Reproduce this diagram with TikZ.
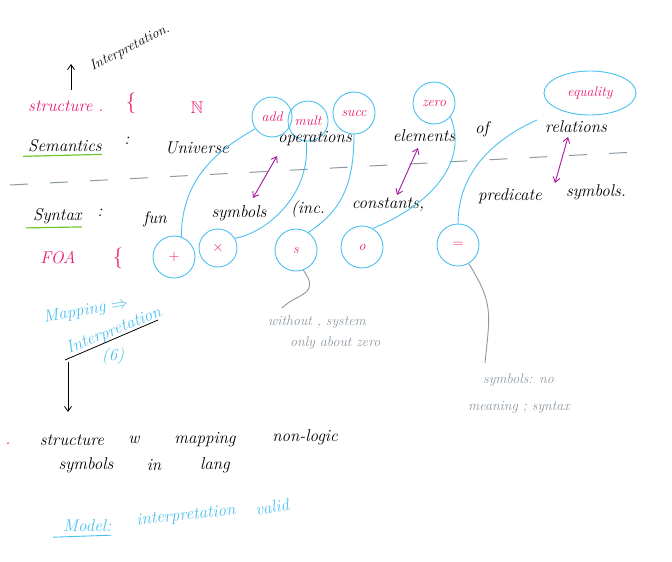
\documentclass[tikz,border=0pt]{standalone}
\usepackage{amssymb}
\usetikzlibrary{arrows.meta,shapes.geometric}

\definecolor{inkpink}{RGB}{236,24,112}
\definecolor{inkcyan}{RGB}{74,192,240}
\definecolor{inkmag}{RGB}{168,24,160}
\definecolor{inkgray}{RGB}{140,152,162}
\definecolor{inkgreen}{RGB}{112,200,40}

\begin{document}
\begin{tikzpicture}[x=1pt,y=-1pt,>={Straight Barb[length=5pt,width=7pt]},
    hw/.style={font=\fontsize{17}{19}\selectfont\itshape, inner sep=0pt},
    hwsmall/.style={font=\fontsize{14}{16}\selectfont\itshape, inner sep=0pt},
    pinktxt/.style={text=inkpink},
    cyantxt/.style={text=inkcyan},
    graytxt/.style={text=inkgray},
    bubble/.style={circle, draw=inkcyan, line width=0.9pt, text=inkpink,
        font=\fontsize{14}{16}\selectfont\itshape, inner sep=0pt},
    link/.style={inkcyan, line width=0.9pt},
    rel/.style={<->, inkmag, line width=0.9pt},
    note/.style={inkgray, line width=0.9pt},
    uline/.style={inkgreen, line width=1.2pt}]

  \useasboundingbox (0,0) rectangle (672,562);

  % ---- top: structure row ----
  \node[hwsmall, rotate=27] (interp) at (130,48) {Interpretation.};
  \coordinate (upA) at (71,90);
  \coordinate (upB) at (71,64);
  \draw[->, line width=0.8pt] (upA) -- (upB);

  \node[hw, pinktxt, anchor=west] (struct) at (28,106) {structure .};
  \node[pinktxt, font=\huge, inner sep=0pt] (sbrace) at (131,103) {\{};
  \node[hw, pinktxt] (nat) at (197,108) {$\mathbb{N}$};

  \node[bubble, minimum size=40pt] (add) at (272,117) {add};
  \node[bubble, minimum size=40pt] (mult) at (308,121) {mult};
  \node[bubble, minimum size=42pt] (succ) at (354,113) {succ};
  \node[bubble, minimum size=42pt] (zero) at (434,103) {zero};
  \node[bubble, ellipse, minimum width=92pt, minimum height=44pt] (equal)
      at (590,93) {equality};

  % ---- semantics row ----
  \node[hw, anchor=west] (sem) at (28,146) {Semantics};
  \draw[uline] ([xshift=-5pt,yshift=-4pt]sem.south west)
      -- ([yshift=-2pt]sem.south east);
  \node[hw] (semcol) at (127,141) {:};
  \node[hw] (univ) at (197,148) {Universe};
  \node[hw] (ops) at (315,139) {operations};
  \node[hw] (elem) at (424,136) {elements};
  \node[hw] (of) at (482,129) {of};
  \node[hw] (rels) at (576,127) {relations};

  % ---- dividing line ----
  \coordinate (divL) at (10,185);
  \coordinate (divR) at (636,152);
  \draw[inkgray, line width=1pt, dash pattern=on 18pt off 22pt] (divL) -- (divR);

  % ---- syntax row ----
  \node[hw, anchor=west] (syn) at (33,216) {Syntax};
  \draw[uline] ([xshift=-7pt,yshift=-4pt]syn.south west)
      -- ([yshift=-3pt]syn.south east);
  \node[hw] (syncol) at (100,213) {:};
  \node[hw] (fun) at (155,219) {fun};
  \node[hw] (syms) at (239,213) {symbols};
  \node[hw] (inc) at (308,209) {(inc.};
  \node[hw] (cons) at (388,205) {constants,};
  \node[hw] (pred) at (510,196) {predicate};
  \node[hw] (psyms) at (596,192) {symbols.};

  \node[hw, pinktxt] (foa) at (58,258) {FOA};
  \node[pinktxt, font=\huge, inner sep=0pt] (fbrace) at (118,258) {\{};

  \node[bubble, minimum size=42pt] (plusb) at (174,257) {$+$};
  \node[bubble, minimum size=38pt] (timesb) at (218,248) {$\times$};
  \node[bubble, minimum size=42pt] (sb) at (296,250) {s};
  \node[bubble, minimum size=42pt] (ob) at (362,247) {o};
  \node[bubble, minimum size=42pt] (eqb) at (458,245) {$=$};

  % ---- links semantics to syntax ----
  \draw[link] (add.215) .. controls +(-35,20) and +(0,-60) .. (plusb.70);
  \draw[link] (mult.265) .. controls +(5,55) and +(30,-5) .. (timesb.30);
  \draw[link] (succ.270) .. controls +(0,55) and +(30,-20) .. (sb.55);
  \draw[link] (zero.320) .. controls +(20,50) and +(50,-20) .. (ob.60);
  \coordinate (eqfoot) at (537,120);
  \draw[link] (eqfoot) .. controls +(-45,20) and +(0,-50) .. (eqb.north);

  \coordinate (opA) at (277,156);
  \coordinate (syA) at (253,198);
  \coordinate (elB) at (418,148);
  \coordinate (coB) at (397,195);
  \coordinate (reC) at (568,137);
  \coordinate (prC) at (555,183);
  \draw[rel] (opA) -- (syA);
  \draw[rel] (elB) -- (coB);
  \draw[rel] (reC) -- (prC);

  % ---- side notes ----
  \coordinate (noteA) at (282,308);
  \draw[note] (sb.290) .. controls +(18,25) and +(15,-15) .. (noteA);
  \node[hwsmall, graytxt, anchor=west] (withA) at (268,322) {without , system};
  \node[hwsmall, graytxt, anchor=west] (withB) at (290,343) {only about zero};

  \coordinate (noteB) at (485,363);
  \draw[note] (eqb.300) .. controls +(25,40) and +(5,-50) .. (noteB);
  \node[hwsmall, graytxt, anchor=west] (symA) at (483,380) {symbols: no};
  \node[hwsmall, graytxt, anchor=west] (symB) at (468,407) {meaning ; syntax};

  % ---- mapping ----
  \node[hw, cyantxt, rotate=10] (mapw) at (86,311) {Mapping $\Rightarrow$};
  \node[hw, cyantxt, rotate=22] (interw) at (114,331) {Interpretation};
  \node[hw, cyantxt] (sigma) at (113,356) {(6)};
  \coordinate (mapL) at (65,360);
  \coordinate (mapR) at (158,320);
  \draw[line width=0.8pt] (mapL) -- (mapR);
  \coordinate (mapTop) at (68,362);
  \coordinate (mapEnd) at (68,412);
  \draw[->, line width=0.8pt] (mapTop) -- (mapEnd);

  \node[hw, pinktxt] (dot) at (8,444) {.};
  \node[hw] (wStruct) at (72,440) {structure};
  \node[hw] (wW) at (134,440) {w};
  \node[hw] (wMap) at (205,440) {mapping};
  \node[hw] (wNon) at (305,437) {non-logic};
  \node[hw] (wSym) at (86,465) {symbols};
  \node[hw] (wIn) at (154,465) {in};
  \node[hw] (wLang) at (215,465) {lang};

  % ---- model ----
  \node[hw, cyantxt, anchor=west] (model) at (63,526) {Model:};
  \draw[inkcyan, line width=0.9pt] ([xshift=-10pt,yshift=-5pt]model.south west)
      -- ([yshift=-3pt]model.south east);
  \node[hw, cyantxt, rotate=6] (interp2) at (186,516) {interpretation};
  \node[hw, cyantxt, rotate=10] (valid) at (272,507) {valid};

\end{tikzpicture}
\end{document}
